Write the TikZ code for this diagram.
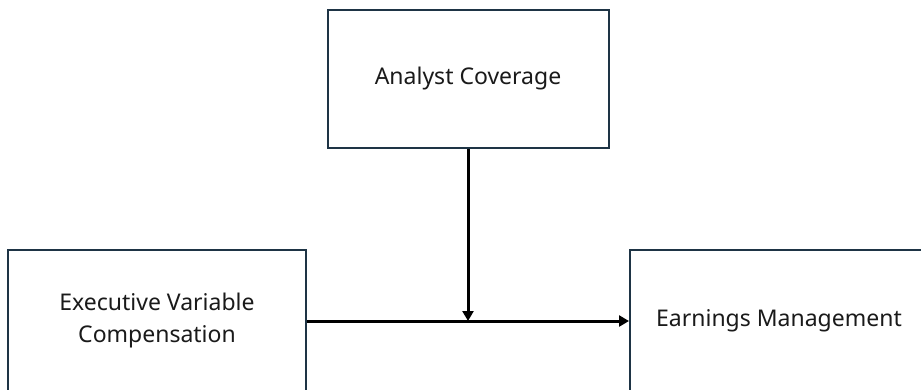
\documentclass[tikz,border=0pt]{standalone}
\usepackage{fontspec}
\setmainfont{Noto Sans}
\usetikzlibrary{arrows.meta, positioning}
\definecolor{boxline}{HTML}{1E3445}
\definecolor{boxtext}{HTML}{1A1A1A}

\begin{document}
\begin{tikzpicture}[x=1pt, y=-1pt,
		box/.style={draw=boxline, line width=2pt, fill=white, text=boxtext, align=center,
			font=\fontsize{23}{32}\selectfont, inner sep=0pt},
		link/.style={line width=3pt, -{Triangle[length=10pt, width=11pt]}}]
			% Page frame:
			\useasboundingbox (0, 0) rectangle (921, 389);
			% Boxes:
			\node[box, minimum width=281pt, minimum height=138pt](analyst) at (468, 79){Analyst Coverage};
			\node[box, minimum width=298pt, minimum height=142pt](exec) at (157, 321){Executive Variable\\Compensation};
			\node[box, minimum width=298pt, minimum height=142pt](earnings) at (779, 321){Earnings Management};
			% Arrows:
			\coordinate (meet) at (analyst.south |- exec.east);
			\draw[link] (exec.east) -- (earnings.west);
			\draw[link] (analyst.south) -- (meet);
		\end{tikzpicture}
\end{document}
